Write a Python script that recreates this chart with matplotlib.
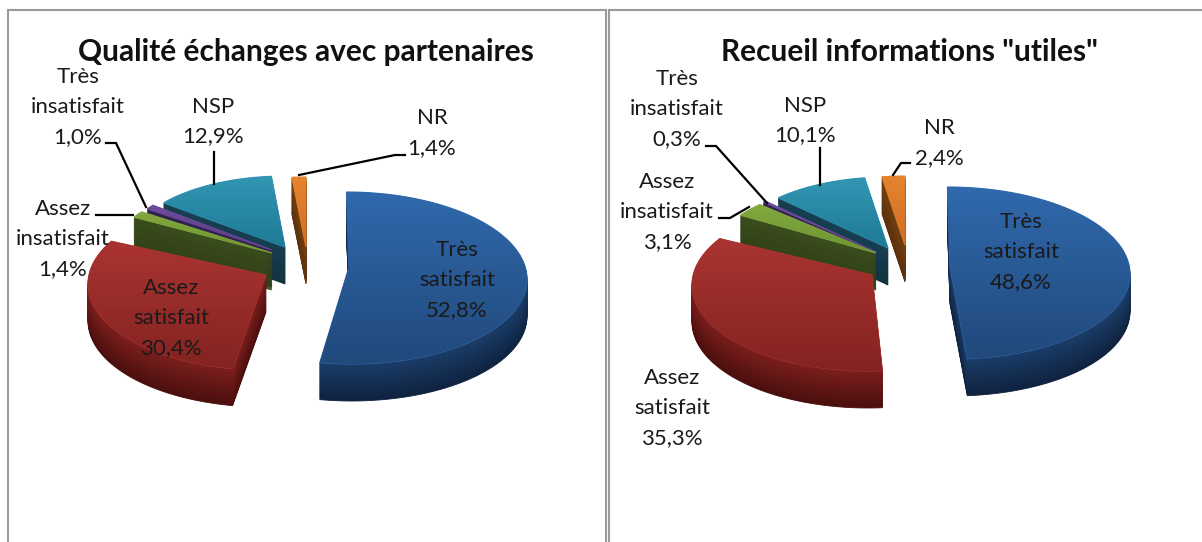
import numpy as np
import matplotlib
matplotlib.use("Agg")
import matplotlib.pyplot as plt
from matplotlib.colors import LinearSegmentedColormap
from matplotlib.patches import Polygon

plt.rcParams['font.family'] = ['Lato', 'DejaVu Sans']

# ---- data ----
categories = ["Très satisfait", "Assez satisfait", "Assez insatisfait",
              "Très insatisfait", "NSP", "NR"]
label_lines = ["Très\nsatisfait", "Assez\nsatisfait", "Assez\ninsatisfait",
               "Très\ninsatisfait", "NSP", "NR"]
title_left = "Qualité échanges avec partenaires"
title_right = 'Recueil informations "utiles"'
values_left = [52.8, 30.4, 1.4, 1.0, 12.9, 1.4]
values_right = [48.6, 35.3, 3.1, 0.3, 10.1, 2.4]

# ---- styles ----
W, H = 1202, 542
TOP_COL = ["#3069AC", "#AA3431", "#82A83E", "#6E4C9C", "#3296B2", "#E5832F"]
BOT_COL = ["#21497C", "#832321", "#6E9432", "#5A3C86", "#1F7A97", "#CF7026"]
WALL_TOP = ["#1B3D68", "#7C1F1D", "#3A4D1C", "#32224F", "#173F52", "#74400F"]
WALL_BOT = ["#0F2340", "#4A0F0E", "#2F3F16", "#281A40", "#12323F", "#5A300C"]
DRAW_ORDER = [4, 5, 3, 2, 1, 0]

# per slice geometry: ellipse cx, cy, rx, ry, shear, apex x, apex y
GEOM_LEFT = [(349, 278, 178, 86, 0.03, 349, 267), (264, 284, 176, 86, 0.0, 266, 275),
             (272, 253, 159, 72, 0.0, 272, 253), (272, 250, 152, 72, 0.0, 272, 250),
             (285, 247, 155, 71, 0.0, 285, 247), (306, 247, 160, 70, 0.0, 306, 247)]
GEOM_RIGHT = [(950, 273, 180, 86, 0.03, 950, 267), (868, 285, 176, 86, 0.0, 872, 275),
              (876, 253, 161, 70, 0.0, 876, 253), (876, 252, 156, 72, 0.0, 876, 252),
              (888, 248, 155, 71, 0.0, 888, 248), (905, 245, 153, 69, 0.0, 905, 245)]
DEPTH = 37

# label centres
LBL_LEFT = [(457, 280), (171, 318), (63, 239), (78, 107), (213, 121.5), (432, 133)]
LBL_RIGHT = [(1021, 252), (672, 408), (667, 212), (677, 109), (805, 120.5), (939, 143)]

LEAD_LEFT = [[(106, 143), (116, 143), (146, 207)], [(96, 215), (133, 215)],
             [(214, 152), (214, 184)], [(299, 175), (395, 155), (405, 155)]]
LEAD_RIGHT = [[(706, 146), (716, 146), (767, 203)],
              [(719, 218), (730, 218), (749, 207)],
              [(820, 148), (820, 185)], [(893, 175), (901, 163), (910, 163)]]


def slice_outline(v0, v1, total, g):
    cx, cy, rx, ry, shear, apx, apy = g
    a0, a1 = v0 / total * 2 * np.pi, v1 / total * 2 * np.pi
    t = np.linspace(a0, a1, max(8, int((a1 - a0) * 40)))
    x = cx + rx * np.sin(t) - shear * ry * np.cos(t)
    y = cy - ry * np.cos(t)
    return np.vstack([[apx, apy], np.column_stack([x, y])])


def draw_pie(ax, values, geom):
    total = sum(values)
    edges = np.concatenate([[0], np.cumsum(values)])
    z = 2
    for i in DRAW_ORDER:
        pts = slice_outline(edges[i], edges[i + 1], total, geom[i])
        wall = LinearSegmentedColormap.from_list("w", [WALL_TOP[i], WALL_BOT[i]])
        for d in range(DEPTH, 0, -1):
            c = wall(d / DEPTH)
            ax.add_patch(Polygon(pts + [0, d], closed=True, fc=c, ec=c, lw=0.6, zorder=z))
            z += 0.001
        top = Polygon(pts, closed=True, fc=TOP_COL[i], ec=TOP_COL[i], lw=0.8, zorder=z)
        ax.add_patch(top)
        z += 0.001
        cmap = LinearSegmentedColormap.from_list("t", [TOP_COL[i], BOT_COL[i]])
        ymin, ymax = pts[:, 1].min(), pts[:, 1].max()
        xmin, xmax = pts[:, 0].min(), pts[:, 0].max()
        im = ax.imshow(np.linspace(0, 1, 64)[:, None], cmap=cmap, aspect="auto",
                       extent=(xmin, xmax, ymax, ymin), zorder=z, vmin=0, vmax=1)
        im.set_clip_path(top)
        z += 0.001


def draw_panel(ax, title, tx, values, geom, lbl, lead, xlim):
    draw_pie(ax, values, geom)
    ax.set_xlim(*xlim)
    ax.set_ylim(H, 10)
    ax.set_xticks([])
    ax.set_yticks([])
    ax.spines["bottom"].set_visible(False)
    for s in ax.spines.values():
        s.set_color("#9A9A9A")
        s.set_linewidth(1.5)
    t = ax.set_title(title, y=0.5, fontsize=21.5, fontweight="bold", color="#111111")
    t.set_transform(ax.transData)
    t.set_position((tx, 52))
    t.set_va("center")
    for name, v, (x, y) in zip(label_lines, values, lbl):
        s = name + "\n" + f"{v:.1f}".replace(".", ",") + "%"
        ax.text(x, y, s, ha="center", va="center", fontsize=16, color="#1A1A1A",
                linespacing=1.6, zorder=5)
    for seg in lead:
        xs, ys = zip(*seg)
        ax.plot(xs, ys, color="#000000", lw=1.6, zorder=4, solid_joinstyle="miter")


fig = plt.figure(figsize=(W / 100, H / 100), dpi=100, facecolor="white")
ax1 = fig.add_axes([8 / W, 0, (606 - 8) / W, 1 - 10 / H])
ax2 = fig.add_axes([609 / W, 0, (W - 609) / W, 1 - 10 / H])
draw_panel(ax1, title_left, 306, values_left, GEOM_LEFT, LBL_LEFT, LEAD_LEFT, (8, 606))
draw_panel(ax2, title_right, 909, values_right, GEOM_RIGHT, LBL_RIGHT, LEAD_RIGHT, (609, W))
ax2.spines["right"].set_visible(False)
fig.savefig("out.png", dpi=100)
